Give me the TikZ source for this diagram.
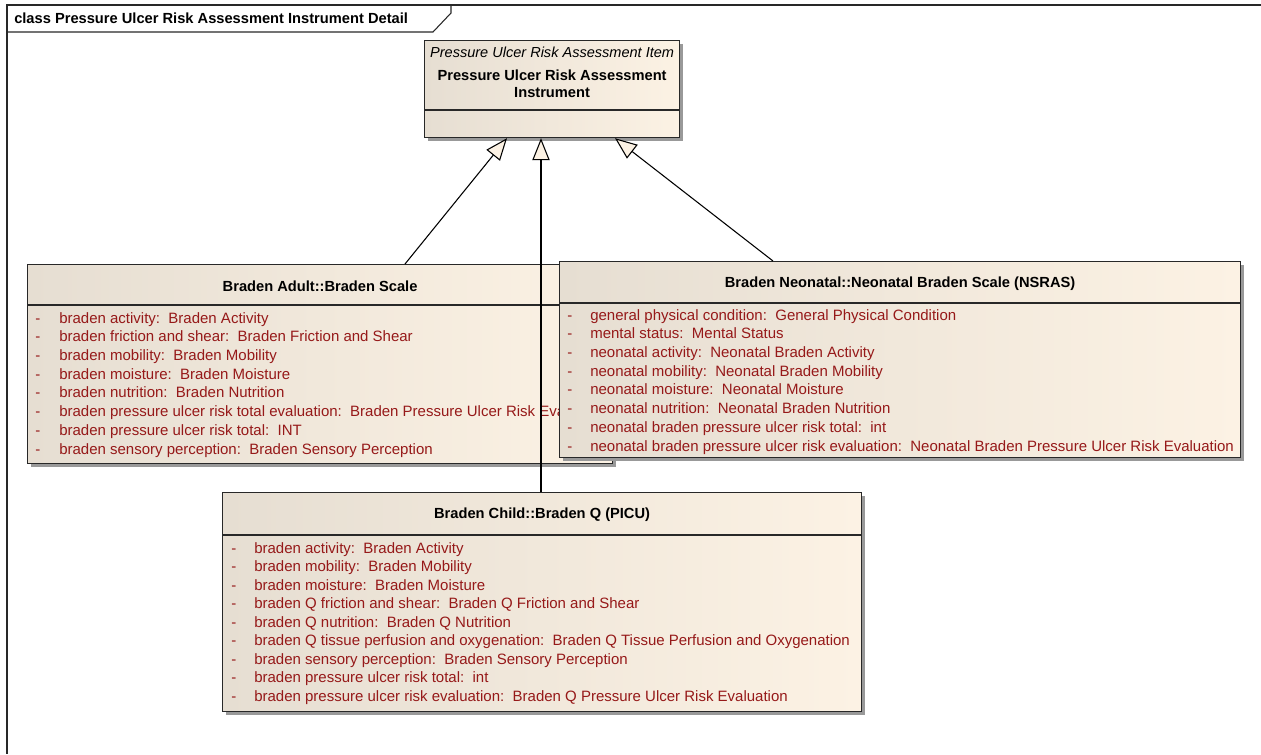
\documentclass[tikz,border=0pt]{standalone}
\usepackage{fontspec}
\setmainfont{Liberation Sans}
\usetikzlibrary{arrows.meta,shadows,calc}
\definecolor{boxL}{RGB}{230,222,210}
\definecolor{boxR}{RGB}{252,242,228}
\definecolor{attr}{RGB}{150,25,25}
\definecolor{edgec}{RGB}{40,40,40}
\definecolor{tipfill}{RGB}{252,242,228}
\tikzset{
  umlbox/.style={draw=edgec, line width=0.9pt, left color=boxL, right color=boxR, inner sep=0pt, anchor=north west,
    drop shadow={shadow xshift=2.6pt, shadow yshift=-2.6pt, fill=black!40, opacity=1}},
  sepline/.style={draw=edgec, line width=0.9pt},
  attrtxt/.style={anchor=west, inner sep=0pt, text=attr, text height=8pt, text depth=2.5pt, font=\fontsize{11.25}{13}\selectfont},
  titletxt/.style={inner sep=0pt, font=\bfseries\fontsize{11}{13}\selectfont},
  gen/.style={draw=black, line width=0.8pt, -{Triangle[length=16.5pt, width=13pt, fill=tipfill]}},
  framel/.style={draw=edgec, line width=0.8pt}
}
\begin{document}
\begin{tikzpicture}[x=0.75pt, y=-0.75pt]
\useasboundingbox (0,0) rectangle (1261,754);
% frame
\draw[framel] (1261,5) -- (7,5) -- (7,754);
\draw[framel] (7,32) -- (433,32) -- (451,13) -- (451,5);
\node[titletxt, anchor=west] (frameT) at (14,18.5) {class Pressure Ulcer Risk Assessment Instrument Detail};

% top class
\node[umlbox, minimum width=255*0.75pt, minimum height=97*0.75pt] (top) at (424,40) {};
\draw[sepline] (top.west |- 0,110) -- (top.east |- 0,110);
\node[inner sep=0pt, font=\itshape\fontsize{10.9}{13}\selectfont] (topS) at (top.north |- 0,52) {Pressure Ulcer Risk Assessment Item};
\node[titletxt] (topN1) at (top.north |- 0,75) {Pressure Ulcer Risk Assessment};
\node[titletxt] (topN2) at (top.north |- 0,93) {Instrument};

% Braden Adult
\node[umlbox, minimum width=585*0.75pt, minimum height=199*0.75pt] (adult) at (27,264) {};
\draw[sepline] (adult.west |- 0,305) -- (adult.east |- 0,305);
\node[titletxt] (adultT) at (adult.north |- 0,286) {Braden Adult::Braden Scale};
\begin{scope}
\clip (27,300) rectangle (558,470);
\foreach \t [count=\i from 0] in {
  {braden activity:\ \ Braden Activity},
  {braden friction and shear:\ \ Braden Friction and Shear},
  {braden mobility:\ \ Braden Mobility},
  {braden moisture:\ \ Braden Moisture},
  {braden nutrition:\ \ Braden Nutrition},
  {braden pressure ulcer risk total evaluation:\ \ Braden Pressure Ulcer Risk Eva},
  {braden pressure ulcer risk total:\ \ INT},
  {braden sensory perception:\ \ Braden Sensory Perception}} {
  \node[attrtxt] (adD\i) at (35,319.5+18.7*\i) {-};
  \node[attrtxt] (adA\i) at (59,319.5+18.7*\i) {\t};
}
\end{scope}

% Braden Neonatal
\node[umlbox, minimum width=681*0.75pt, minimum height=196*0.75pt] (neo) at (559,261) {};
\draw[sepline] (neo.west |- 0,303) -- (neo.east |- 0,303);
\node[titletxt] (neoT) at (neo.north |- 0,284) {Braden Neonatal::Neonatal Braden Scale (NSRAS)};
\foreach \t [count=\i from 0] in {
  {general physical condition:\ \ General Physical Condition},
  {mental status:\ \ Mental Status},
  {neonatal activity:\ \ Neonatal Braden Activity},
  {neonatal mobility:\ \ Neonatal Braden Mobility},
  {neonatal moisture:\ \ Neonatal Moisture},
  {neonatal nutrition:\ \ Neonatal Braden Nutrition},
  {neonatal braden pressure ulcer risk total:\ \ int},
  {neonatal braden pressure ulcer risk evaluation:\ \ Neonatal Braden Pressure Ulcer Risk Evaluation}} {
  \node[attrtxt] (neD\i) at (567,316.5+18.7*\i) {-};
  \node[attrtxt] (neA\i) at (590,316.5+18.7*\i) {\t};
}

% Braden Child
\node[umlbox, minimum width=639*0.75pt, minimum height=219*0.75pt] (child) at (222,492) {};
\draw[sepline] (child.west |- 0,535) -- (child.east |- 0,535);
\node[titletxt] (childT) at (child.north |- 0,515) {Braden Child::Braden Q (PICU)};
\foreach \t [count=\i from 0] in {
  {braden activity:\ \ Braden Activity},
  {braden mobility:\ \ Braden Mobility},
  {braden moisture:\ \ Braden Moisture},
  {braden Q friction and shear:\ \ Braden Q Friction and Shear},
  {braden Q nutrition:\ \ Braden Q Nutrition},
  {braden Q tissue perfusion and oxygenation:\ \ Braden Q Tissue Perfusion and Oxygenation},
  {braden sensory perception:\ \ Braden Sensory Perception},
  {braden pressure ulcer risk total:\ \ int},
  {braden pressure ulcer risk evaluation:\ \ Braden Q Pressure Ulcer Risk Evaluation}} {
  \node[attrtxt] (chD\i) at (231,549.5+18.5*\i) {-};
  \node[attrtxt] (chA\i) at (254,549.5+18.5*\i) {\t};
}

% generalizations
\draw[gen] (405,0 |- adult.north) -- (507,0 |- top.south);
\draw[gen] (541,0 |- child.north) -- (541,0 |- top.south);
\draw[gen] (773,0 |- neo.north) -- (615,0 |- top.south);
\end{tikzpicture}
\end{document}
